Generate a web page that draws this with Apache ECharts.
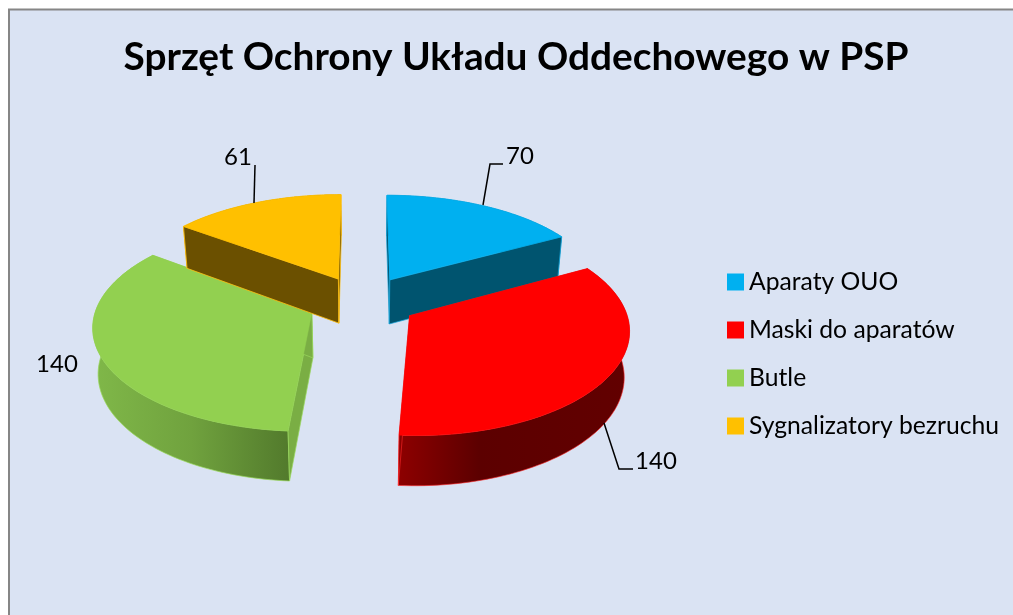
<!DOCTYPE html>
<html>
<head>
<meta charset="utf-8">
<style>html,body{margin:0;padding:0;background:#fff}#c{width:1013px;height:615px}</style>
<script src="https://cdn.jsdelivr.net/npm/echarts@6/dist/echarts.min.js"></script>
</head>
<body>
<div id="c"></div>
<script>
// ---- data ----
const categories = ['Aparaty OUO', 'Maski do aparatów', 'Butle', 'Sygnalizatory bezruchu'];
const values = [70, 140, 140, 61];
const titleText = 'Sprzęt Ochrony Układu Oddechowego w PSP';

// ---- styles / layout ----
const FONT = 'Lato, Carlito, "Open Sans", sans-serif';
const topColors = ['#00B0F0', '#FF0000', '#92D050', '#FFC000'];
const faceColors = ['#00546F', '#8A0000', '#7AAE44', '#6B5000'];
const edgeColors = ['rgba(26,167,220,0.7)', 'rgba(255,42,42,0.6)', 'rgba(154,216,92,0.7)', 'rgba(255,191,16,0.8)'];
const wallStops = [
  [[0, '#00546F'], [1, '#00546F']],
  [[0, '#8E0000'], [0.35, '#5C0000'], [1, '#620000']],
  [[0, '#80B849'], [0.5, '#70A23E'], [1, '#527A2C']],
  [[0, '#6B5000'], [1, '#6B5000']]
];
const drawOrder = [1, 4, 2, 3];         // z of slices: back first, front last
const leaders = [
  { line: [[483, 205], [490, 164], [503, 164]], text: [520, 156] },
  { line: [[604, 423], [619, 469], [633, 469]], text: [656, 461] },
  { line: null, text: [57, 364] },
  { line: [[254, 203], [255, 165]], text: [238, 157] }
];
const PIE = { cx: 362.5, cy: 301.5, R: 214, explode: 55, k: 0.47, Dy: 1675, Dx: 1800, t: 45, tPow: 0.7, q: 0.98 };

const total = values.reduce((a, b) => a + b, 0);
const toArc = v => v / total * Math.PI * 2;
const starts = values.map((_, i) => values.slice(0, i).reduce((a, b) => a + toArc(b), 0));

function project(x, y, level) {
  const Py = PIE.Dy / (PIE.Dy - y);
  const Px = PIE.Dx / (PIE.Dx - y);
  const Q = level ? PIE.q : 1;
  return [PIE.cx + x * Px * Q, PIE.cy + PIE.k * y * Py + level * PIE.t * Math.pow(Py, PIE.tPow)];
}

function renderSlice(i) {
  return function (params, api) {
    const a0 = starts[i];
    const a1 = a0 + toArc(api.value(0));
    const mid = (a0 + a1) / 2;
    const ox = PIE.explode * Math.sin(mid), oy = -PIE.explode * Math.cos(mid);
    const pt = (a, r, lv) => project(ox + r * Math.sin(a), oy - r * Math.cos(a), lv);
    const N = 80;
    const arcTop = [], arcBot = [];
    for (let s = 0; s <= N; s++) {
      const a = a0 + (a1 - a0) * s / N;
      arcTop.push(pt(a, PIE.R, 0));
      arcBot.push(pt(a, PIE.R, 1));
    }
    const apexT = pt(0, 0, 0), apexB = pt(0, 0, 1);
    const edge = { stroke: edgeColors[i], lineWidth: 1, lineJoin: 'round' };
    const children = [];
    // outer wall (its hidden back part ends up under the faces and the top)
    children.push({ type: 'polygon', shape: { points: arcTop.concat(arcBot.slice().reverse()) },
      style: Object.assign({
        fill: new echarts.graphic.LinearGradient(0, 0, 1, 0,
          wallStops[i].map(s => ({ offset: s[0], color: s[1] })))
      }, edge) });
    // start face
    children.push({ type: 'polygon', shape: { points: [apexT, arcTop[0], arcBot[0], apexB] },
      style: Object.assign({ fill: faceColors[i] }, edge) });
    // end face
    children.push({ type: 'polygon', shape: { points: [apexT, arcTop[N], arcBot[N], apexB] },
      style: Object.assign({ fill: faceColors[i] }, edge) });
    // top face
    children.push({ type: 'polygon', shape: { points: [apexT].concat(arcTop) },
      style: { fill: topColors[i], stroke: topColors[i], lineWidth: 0.5 } });
    return { type: 'group', children };
  };
}

function renderLabel(i) {
  return function (params, api) {
    const L = leaders[i];
    const children = [];
    if (L.line) {
      children.push({ type: 'polyline', shape: { points: L.line },
        style: { stroke: '#000', lineWidth: 1.5, fill: null } });
    }
    children.push({ type: 'text', style: {
      text: String(api.value(0)), x: L.text[0], y: L.text[1],
      align: 'center', verticalAlign: 'middle',
      font: '24px ' + FONT, fill: '#000' } });
    return { type: 'group', children };
  };
}

const series = [];
categories.forEach((name, i) => {
  series.push({
    type: 'custom', name, coordinateSystem: 'none', z: 2 + drawOrder[i],
    data: [[values[i]]], renderItem: renderSlice(i), animation: false, silent: true,
    itemStyle: { color: topColors[i] }
  });
});
categories.forEach((name, i) => {
  series.push({
    type: 'custom', name: name + ' label', coordinateSystem: 'none', z: 10,
    data: [[values[i]]], renderItem: renderLabel(i), animation: false, silent: true
  });
});

const chart = echarts.init(document.getElementById('c'), null, { renderer: 'canvas' });
chart.setOption({
  backgroundColor: '#FFFFFF',
  animation: false,
  title: {
    text: titleText, left: 511, top: 33, textAlign: 'center',
    textStyle: { fontFamily: FONT, fontWeight: 'bold', fontSize: 38.8, color: '#000' }
  },
  legend: {
    data: categories.map(name => ({ name, icon: 'rect' })),
    orient: 'vertical', left: 722, top: 262,
    itemWidth: 17, itemHeight: 17, itemGap: 18, itemStyle: { borderWidth: 0 },
    selectedMode: false,
    textStyle: { fontFamily: FONT, fontSize: 24.7, color: '#000', lineHeight: 30 }
  },
  graphic: [{
    type: 'rect', z: -10, silent: true,
    shape: { x: 9, y: 9.5, width: 1100, height: 700 },
    style: { fill: '#DAE3F3', stroke: '#868686', lineWidth: 2 }
  }],
  series
});
</script>
</body>
</html>
